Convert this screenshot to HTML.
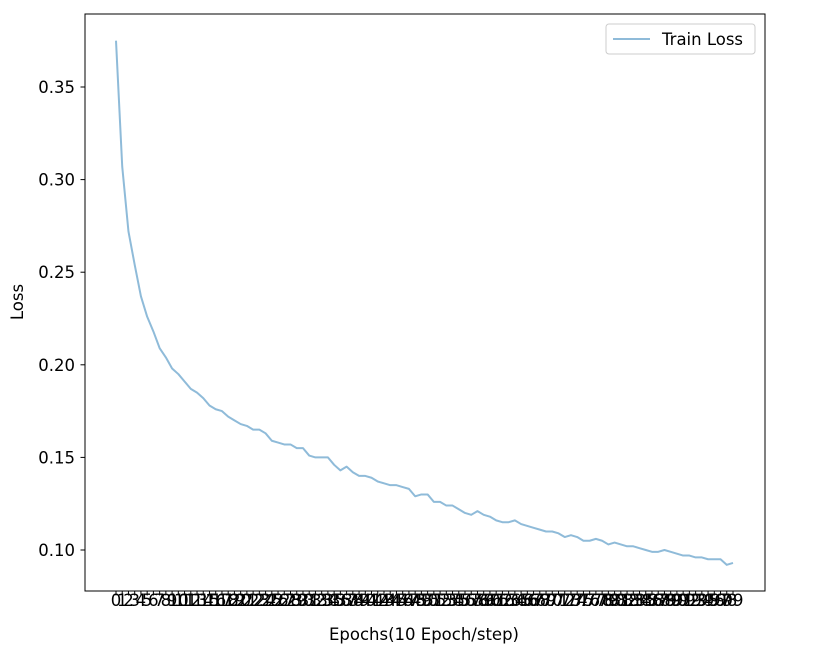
<!DOCTYPE html>
<html><head><meta charset="utf-8"><style>
body{margin:0;background:#fff;width:818px;height:647px;overflow:hidden}
text{font-family:"DejaVu Sans","Liberation Sans",sans-serif;fill:#000}
</style></head><body>
<svg id="chart" width="818" height="647" xmlns="http://www.w3.org/2000/svg">
<rect x="0" y="0" width="818" height="647" fill="#fff"/>
<g id="plot"></g>
</svg>
<script>
const epochs = Array.from({length:100},(_,i)=>i);
const trainLoss = [0.375,0.307,0.272,0.254,0.237,0.226,0.218,0.209,0.204,0.198,
0.195,0.191,0.187,0.185,0.182,0.178,0.176,0.175,0.172,0.170,
0.168,0.167,0.165,0.165,0.163,0.159,0.158,0.157,0.157,0.155,
0.155,0.151,0.150,0.150,0.150,0.146,0.143,0.145,0.142,0.140,
0.140,0.139,0.137,0.136,0.135,0.135,0.134,0.133,0.129,0.130,
0.130,0.126,0.126,0.124,0.124,0.122,0.120,0.119,0.121,0.119,
0.118,0.116,0.115,0.115,0.116,0.114,0.113,0.112,0.111,0.110,
0.110,0.109,0.107,0.108,0.107,0.105,0.105,0.106,0.105,0.103,
0.104,0.103,0.102,0.102,0.101,0.100,0.099,0.099,0.100,0.099,
0.098,0.097,0.097,0.096,0.096,0.095,0.095,0.095,0.092,0.093];
const yTicks = [0.10,0.15,0.20,0.25,0.30,0.35];
const yTickLabels = ["0.10","0.15","0.20","0.25","0.30","0.35"];

const L=85,R=765,T=14,B=591;
const FS=16.5;
const xS = i => 116 + (i-0)*(733-116)/99;
const yS = v => 550 - (v-0.10)*(550-87)/0.25;
const NS="http://www.w3.org/2000/svg";
const g=document.getElementById('plot');
function mk(tag,attrs,parent){const e=document.createElementNS(NS,tag);for(const k in attrs)e.setAttribute(k,attrs[k]);(parent||g).appendChild(e);return e;}

const pts=epochs.map((e,i)=>xS(e).toFixed(2)+','+yS(trainLoss[i]).toFixed(2)).join(' ');
const line=mk('polyline',{points:pts,fill:'none',stroke:'#1f77b4','stroke-opacity':0.5,'stroke-width':2,'stroke-linejoin':'round'});



const frame=mk('rect',{x:L,y:T,width:R-L,height:B-T,fill:'none',stroke:'#000','stroke-width':1});



yTicks.forEach((v,i)=>{
  const y=yS(v);
  mk('line',{x1:L-4.5,x2:L,y1:y,y2:y,stroke:'#000','stroke-width':1});
  const t=mk('text',{x:L-10,y:y+6,'text-anchor':'end','font-size':FS,'fill':'#222'});
  t.textContent=yTickLabels[i];
  
  
});
epochs.forEach(e=>{
  const x=xS(e);
  mk('line',{x1:x,x2:x,y1:B,y2:B+4.5,stroke:'#000','stroke-width':1});
  const t=mk('text',{x:x,y:B+15,'text-anchor':'middle','font-size':FS,'fill':'#222'});
  t.textContent=String(e);
  
  
});
const xt=mk('text',{x:424,y:640,'text-anchor':'middle','font-size':FS,'fill':'#222'});
xt.textContent='Epochs(10 Epoch/step)';


const yt=mk('text',{x:0,y:0,'text-anchor':'middle','font-size':FS,'fill':'#222',transform:'translate(23,302) rotate(-90)'});
yt.textContent='Loss';



const lg=mk('g',{});


mk('rect',{x:606,y:24,width:149,height:30,rx:3,fill:'#fff','fill-opacity':0.8,stroke:'#ccc','stroke-width':1},lg);
mk('line',{x1:613,x2:650,y1:39,y2:39,stroke:'#1f77b4','stroke-opacity':0.5,'stroke-width':2},lg);
const lt=mk('text',{x:662,y:45,'font-size':FS,'fill':'#222'},lg);
lt.textContent='Train Loss';


</script>
</body></html>
